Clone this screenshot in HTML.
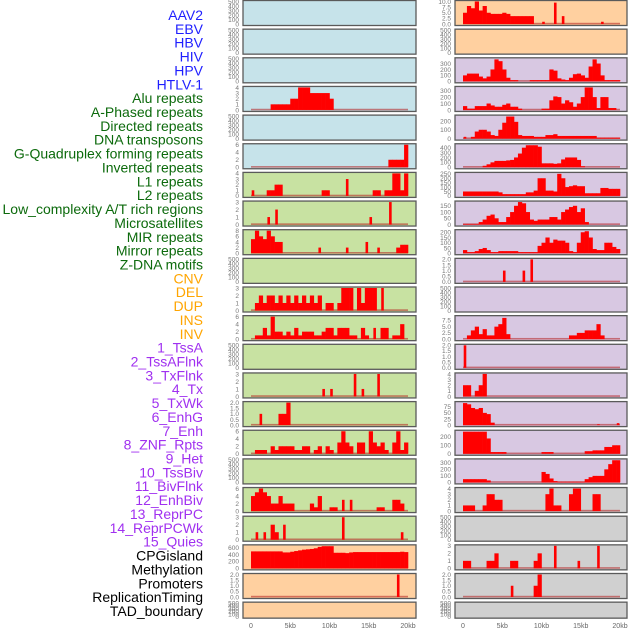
<!DOCTYPE html>
<html><head><meta charset="utf-8">
<style>
html,body{margin:0;padding:0;background:#fff;width:630px;height:630px;overflow:hidden}
svg{display:block}
</style></head>
<body>
<svg id="chart" width="630" height="630" viewBox="0 0 630 630" xmlns="http://www.w3.org/2000/svg"></svg>
<script>
// ---- data ----
const labels = ["AAV2","EBV","HBV","HIV","HPV","HTLV-1","Alu repeats","A-Phased repeats","Directed repeats","DNA transposons","G-Quadruplex forming repeats","Inverted repeats","L1 repeats","L2 repeats","Low_complexity A/T rich regions","Microsatellites","MIR repeats","Mirror repeats","Z-DNA motifs","CNV","DEL","DUP","INS","INV","1_TssA","2_TssAFlnk","3_TxFlnk","4_Tx","5_TxWk","6_EnhG","7_Enh","8_ZNF_Rpts","9_Het","10_TssBiv","11_BivFlnk","12_EnhBiv","13_ReprPC","14_ReprPCWk","15_Quies","CPGisland","Methylation","Promoters","ReplicationTiming","TAD_boundary"];
const labelGroups = [6,13,5,15,5];
const xTicks = [0,5,10,15,20];
const xTickLabels = ["0","5kb","10kb","15kb","20kb"];
const EMPTY = ["0","100","200","300","400","500"];
const leftBg = ["b","b","b","b","b","b","g","g","g","g","g","g","g","g","g","g","g","g","g","o","o","o"];
const rightBg = ["o","o","p","p","p","p","p","p","p","p","p","p","p","p","p","p","p","y","y","y","y","y"];
const leftTicks = [EMPTY,EMPTY,EMPTY,["0","1","2","3","4"],EMPTY,["0","2","4","6"],["0","1","2","3","4"],["0","1","2","3"],["0","2","4","6","8"],EMPTY,["0","1","2","3"],["0","2","4","6"],EMPTY,["0","1","2","3"],["0.0","0.5","1.0","1.5","2.0"],["0","2","4","6"],EMPTY,["0","2","4","6"],["0","1","2","3"],["0","200","400","600"],["0.0","0.5","1.0","1.5","2.0"],EMPTY];
const rightTicks = [["0.0","2.5","5.0","7.5","10.0"],EMPTY,["0","100","200","300"],["0","100","200","300"],["0","100","200"],["0","100","200","300","400"],["0","50","100","150","200","250"],["0","50","100","150"],["0","50","100","150","200"],["0.0","0.5","1.0","1.5","2.0"],EMPTY,["0.0","2.5","5.0","7.5"],["0.0","0.5","1.0","1.5","2.0"],["0","1","2","3","4"],["0","25","50","75"],["0","100","200"],["0","100","200","300"],["0","1","2","3","4"],EMPTY,["0","1","2","3"],["0.0","0.5","1.0","1.5","2.0"],EMPTY];
const leftYmax = [500,500,500,4,500,6,4,3,8,500,3,6,500,3,2,6,500,6,3,650,2,500];
const rightYmax = [10,500,380,350,255,460,255,180,215,2,500,9,2,4,92,265,345,4,500,3,2,500];
const leftData = [
null,null,null,
{5:1,6:1,7:1,8:1,9:1,10:2,11:2,12:4,13:4,14:4,15:3,16:3,17:3,18:3,19:3,20:2},
null,
{35:2,36:2,37:2,38:2,39:6},
{0:1,4:1,5:1,6:2,7:2,18:1,19:1,24:3,31:1,32:1,34:1,35:1,36:4,37:4,38:1,39:4},
{4:1,6:2,30:1,35:3},
{0:5,1:8,2:6,3:5,4:8,5:6,6:4,7:4,17:2,24:2,29:4,32:2,37:2,38:3,39:3},
null,
{1:1,2:2,3:1,4:2,5:2,6:1,7:2,8:1,9:2,10:1,11:2,12:1,13:2,14:1,15:2,16:1,17:2,19:1,20:1,22:1,23:3,24:3,25:3,27:3,28:1,29:3,30:3,31:3,33:3},
{1:1,2:1,3:3,4:1,5:6,6:2,7:2,8:1,9:2,10:1,11:3,12:1,13:2,14:2,15:2,16:1,17:1,18:2,19:3,20:3,21:1,22:3,23:3,24:3,25:1,26:1,28:3,29:1,31:3,33:3,34:3,36:1,37:1,38:4},
null,
{18:1,20:1,26:3,28:1,32:3},
{2:1,7:1,8:1,9:2},
{1:1,2:1,3:1,5:2,6:1,7:2,8:2,9:2,10:2,11:1,12:1,13:2,14:2,16:1,17:2,19:2,20:1,22:3,23:6,24:3,25:2,27:3,28:3,30:6,31:3,32:2,33:3,34:1,36:3,37:6,38:1,39:3},
null,
{0:4,1:5,2:6,3:5,4:4,5:2,6:2,7:4,8:2,9:2,10:2,15:2,16:1,17:4,20:1,21:1,23:3,25:3,32:1,33:1,36:3,37:3,38:2},
{1:1,3:1,5:2,6:1,8:2,23:3,38:1},
{0:490,1:490,2:490,3:490,4:490,5:490,6:490,7:490,8:460,9:460,10:480,11:500,12:520,13:540,14:550,15:560,16:580,17:620,18:640,19:640,20:640,21:450,22:450,23:450,24:440,25:460,26:470,27:470,28:470,29:470,30:470,31:470,32:470,33:470,34:470,35:470,36:470,37:470,38:480,39:470},
{37:2},
null];
const rightData = [
{0:5,1:8,2:7,3:10,4:6,5:8,6:5,7:4.5,8:4.5,9:4.5,10:5,11:4.5,12:3.5,13:3.5,14:3.5,15:3.5,16:3.5,17:3.5,20:1,23:9.5,25:3.5,35:1},
null,
{0:100,1:130,2:130,3:130,4:80,5:50,6:80,7:200,8:370,9:340,10:200,11:60,12:20,13:20,17:20,18:20,19:20,20:20,21:20,22:200,23:180,24:50,25:30,26:20,27:60,28:120,29:130,30:100,31:60,32:250,33:370,34:300,35:100,36:20,37:20,38:20,39:20},
{0:60,1:20,2:20,3:60,4:60,5:60,6:100,7:70,8:50,9:50,10:80,11:100,12:50,13:50,14:20,20:20,21:20,22:150,23:210,24:200,25:100,26:150,27:120,28:50,29:100,30:200,31:350,32:350,33:200,34:30,35:200,36:200,37:30,38:30},
{0:20,2:20,3:80,4:100,5:100,6:80,7:40,8:30,9:100,10:180,11:250,12:250,13:190,14:40,15:30,16:30,17:30,18:20,19:20,20:20,21:40,22:40,23:50,24:30,25:30,26:30,27:30,28:30,29:30,30:30,31:30,32:30,33:30,34:10,35:10,36:10,37:10,38:10,39:10},
{5:30,6:60,7:100,8:130,9:130,10:130,11:140,12:150,13:200,14:280,15:400,16:450,17:450,18:450,19:420,20:80,21:80,22:80,23:70,24:80,25:160,26:200,27:200,28:200,29:150,30:20},
{0:50,1:50,2:50,3:50,4:50,5:50,6:50,7:50,8:50,9:40,10:20,11:20,12:20,13:20,14:20,15:20,16:40,17:40,18:60,19:200,20:200,21:60,22:60,23:50,24:250,25:200,26:100,27:110,28:120,29:110,30:110,31:30,32:30,33:30,34:30,35:90,36:90,37:80,38:80,39:80},
{0:5,1:5,2:5,3:5,4:20,5:40,6:70,7:80,8:50,9:20,10:20,11:60,12:100,13:150,14:180,15:170,16:100,17:40,18:30,19:40,20:40,21:40,22:60,23:60,24:40,25:100,26:120,27:140,28:150,29:100,30:130,31:20},
{0:30,1:10,2:10,3:20,4:40,5:50,6:30,7:10,8:10,9:20,10:20,11:20,12:20,13:20,14:10,15:10,16:10,17:10,18:10,19:70,20:100,21:150,22:100,23:130,24:120,25:120,26:100,27:20,28:10,29:100,30:200,31:210,32:150,33:40,34:30,35:30,36:100,37:100,38:60,39:40},
{10:1,15:1,17:2},
null,
{1:1.5,2:3.5,3:5,4:2,5:4,6:1.5,7:1.5,8:5,9:6,10:8.5,11:2,27:1.5,28:1.5,29:2.5,30:2.5,31:3.5,32:3.5,33:3.5,34:6,35:1.5},
{0:2},
{0:2,1:2,3:1,4:2,5:4},
{0:90,1:85,2:70,3:65,4:70,5:50,6:45,7:10,34:3,39:8},
{0:260,1:260,2:260,3:260,4:260,5:260,6:180,7:20,8:20,9:20,10:20,20:20,21:20,22:20,31:30,32:30,33:40,34:40,35:40,36:80,37:80,38:100,39:100},
{0:50,1:50,2:50,3:50,4:50,5:50,6:30,20:160,21:130,22:60,23:20,24:10,25:10,26:10,27:10,28:10,29:10,30:10,31:50,32:80,33:100,34:100,35:100,36:200,37:280,38:340,39:340},
{0:1,1:1,2:1,5:1,6:3,7:3,8:2,9:2,21:3,22:4,23:1,24:1,27:3,28:4,29:4,33:3,34:3},
null,
{0:1,1:1,6:1,7:1,8:2,12:1,13:1,18:1,19:2,23:3,29:1,34:3},
{12:1,18:1,19:2},
null];

// ---- drawing ----
const NS = "http://www.w3.org/2000/svg";
const svg = document.getElementById("chart");
const bgColors = {b:"#c6e3ea", g:"#c8e2a2", o:"#ffd0a0", p:"#d8c8e2", y:"#d0d0d0"};
const labelColors = ["#1f1fff","#0c6a0c","#ffa500","#a030f0","#000000"];
function mk(tag, attrs){const e=document.createElementNS(NS,tag);for(const k in attrs)e.setAttribute(k,attrs[k]);svg.appendChild(e);return e;}

let li=0;
labelGroups.forEach((n,g)=>{for(let k=0;k<n;k++){
  const t=mk("text",{x:203,y:20+li*13.86,"text-anchor":"end","font-family":"Liberation Sans, sans-serif","font-size":"14",fill:labelColors[g]});
  t.textContent=labels[li];
  
  
  li++;
}});

const cols=[{x0:243,x1:416,z:251,bg:leftBg,ticks:leftTicks,ymax:leftYmax,data:leftData,name:"left"},
            {x0:455,x1:627,z:463,bg:rightBg,ticks:rightTicks,ymax:rightYmax,data:rightData,name:"right"}];
const PX_PER_KB=7.85;
cols.forEach(c=>{
  const xs=kb=>c.z+kb*PX_PER_KB;
  for(let r=0;r<22;r++){
    const top=r*28.65+0.5, h=(r===21?16:25);
    const bottom=top+h;
    const g=document.createElementNS(NS,"g");svg.appendChild(g);
    
    
    const rect=document.createElementNS(NS,"rect");
    rect.setAttribute("x",c.x0);rect.setAttribute("y",top);rect.setAttribute("width",c.x1-c.x0);rect.setAttribute("height",h);
    rect.setAttribute("fill",bgColors[c.bg[r]]);rect.setAttribute("stroke","#5a5a5a");rect.setAttribute("stroke-width","1.3");
    g.appendChild(rect);
    const y0=bottom-1.5, ys=v=>y0-(v/c.ymax[r])*(h-2.5);
    const d=c.data[r];
    if(d){
      const bl=document.createElementNS(NS,"rect");
      bl.setAttribute("x",xs(0));bl.setAttribute("width",xs(20)-xs(0));bl.setAttribute("y",y0-1.2);bl.setAttribute("height",1.6);
      bl.setAttribute("fill","rgba(180,30,30,0.55)");
      
      
      g.appendChild(bl);
      for(const k in d){
        const v=d[k], ki=+k;
        const isolated = !(d[ki-1]) && !(d[ki+1]);
        const b=document.createElementNS(NS,"rect");
        let bx=xs(ki*0.5), bw=0.5*PX_PER_KB+0.3;
        if(isolated){ bx+=0.7; bw=2.6; }
        b.setAttribute("x",bx);b.setAttribute("width",bw);
        b.setAttribute("y",ys(v));b.setAttribute("height",y0-ys(v));
        b.setAttribute("fill","#ff0000");
        
        
        g.appendChild(b);
      }
    }
    c.ticks[r].forEach(tl=>{
      const v=parseFloat(tl);
      const t=document.createElementNS(NS,"text");
      t.setAttribute("x",c.x0-4);t.setAttribute("y",ys(v)+2.3);t.setAttribute("text-anchor","end");
      t.setAttribute("font-family","Liberation Sans, sans-serif");t.setAttribute("font-size","6.5");t.setAttribute("fill","#777");
      t.textContent=tl;
      
      
      g.appendChild(t);
    });
  }
  xTicks.forEach((v,i)=>{
    const t=mk("text",{x:xs(v),y:628,"text-anchor":"middle","font-family":"Liberation Sans, sans-serif","font-size":"7",fill:"#666"});
    t.textContent=xTickLabels[i];
    
    
  });
});
</script>
</body></html>
